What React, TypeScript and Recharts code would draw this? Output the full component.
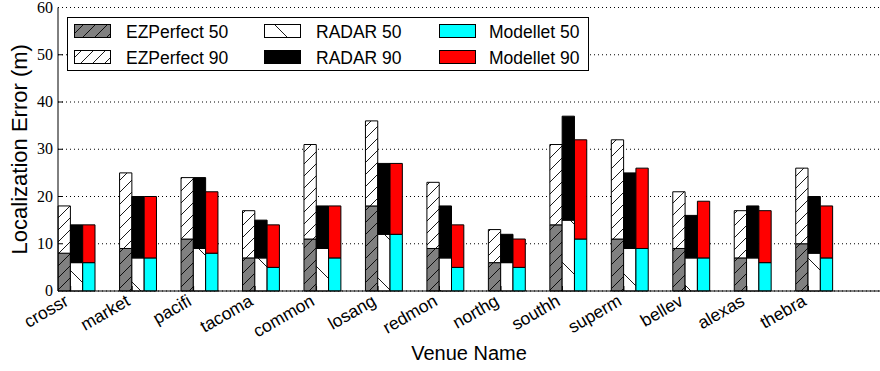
import { BarChart, Bar, XAxis, YAxis, CartesianGrid, Legend, Label } from "recharts";

const venues = ["crossr", "market", "pacifi", "tacoma", "common", "losang", "redmon", "northg", "southh", "superm", "bellev", "alexas", "thebra"];
const ezPerfect50 = [8, 9, 11, 7, 11, 18, 9, 6, 14, 11, 9, 7, 10];
const ezPerfect90 = [18, 25, 24, 17, 31, 36, 23, 13, 31, 32, 21, 17, 26];
const radar50 = [6, 7, 9, 7, 9, 12, 7, 6, 15, 9, 7, 7, 8];
const radar90 = [14, 20, 24, 15, 18, 27, 18, 12, 37, 25, 16, 18, 20];
const modellet50 = [6, 7, 8, 5, 7, 12, 5, 5, 11, 9, 7, 6, 7];
const modellet90 = [14, 20, 21, 14, 18, 27, 14, 11, 32, 26, 19, 17, 18];
const yTicks = [0, 10, 20, 30, 40, 50, 60];

// 90th percentile bar is drawn as the part above the 50th percentile one
const data = venues.map((venue, i) => ({
  venue,
  ez50: ezPerfect50[i],
  ez90: ezPerfect90[i] - ezPerfect50[i],
  radar50: radar50[i],
  radar90: radar90[i] - radar50[i],
  mod50: modellet50[i],
  mod90: modellet90[i] - modellet50[i],
}));

const series = [
  { key: "ez50", stack: "ez", name: "EZPerfect 50", fill: "url(#hatchFwdGray)" },
  { key: "ez90", stack: "ez", name: "EZPerfect 90", fill: "url(#hatchFwdWhite)" },
  { key: "radar50", stack: "radar", name: "RADAR 50", fill: "url(#hatchBackWhite)" },
  { key: "radar90", stack: "radar", name: "RADAR 90", fill: "#000000" },
  { key: "mod50", stack: "mod", name: "Modellet 50", fill: "#00ffff" },
  { key: "mod90", stack: "mod", name: "Modellet 90", fill: "#ff0000" },
];

const FONT = "'Liberation Sans', Arial, sans-serif";
const CHART_W = 880;
const CHART_H = 371;
const TOP = 7.5;
const X_AXIS_H = 80;
const PLOT_H = CHART_H - TOP - X_AXIS_H;
// ticks sit on the EZPerfect/RADAR boundary, the plot box runs past the right edge
const TICK_PAD = { left: 12.7, right: 71.7 };
const BAR_PAD = { left: -11.9, right: 34.8 };

function VenueTick(props: any) {
  const { x, y, payload } = props;
  const ax = x - 4;
  const ay = y + 8;
  return (
    <g>
      <line x1={x} y1={y} x2={x} y2={y - 5} stroke="#000" />
      <text x={ax} y={ay} dy="0.35em" textAnchor="end" fontSize={17.5} fill="#000"
        transform={`rotate(-30 ${ax} ${ay})`}>
        {payload.value}
      </text>
    </g>
  );
}

// top ticks also carry the vertical dotted grid line down through the plot
function TopTick(props: any) {
  const { x, y } = props;
  return (
    <g>
      <line x1={x} y1={y} x2={x} y2={y + PLOT_H} stroke="#000" strokeDasharray="1 3" />
      <line x1={x} y1={y} x2={x} y2={y + 5} stroke="#000" />
    </g>
  );
}

function ValueTick(props: any) {
  const { x, y, payload } = props;
  return (
    <g>
      {payload.value > 0 && payload.value < 60 && (
        <line x1={x} y1={y} x2={x + 5} y2={y} stroke="#000" />
      )}
      <text x={x - 5} y={y + 5} textAnchor="end" fontSize={16} fill="#000"
        fontFamily="'Liberation Serif', 'DejaVu Serif', serif">
        {payload.value}
      </text>
    </g>
  );
}

function renderLegend() {
  const colX = [7, 197, 372];
  const textX = [59, 249, 422];
  const rowY = [7, 33];
  const baseY = [20.5, 46.5];
  return (
    <svg width={522} height={54} style={{ display: "block" }}>
      <rect x={0.5} y={0.5} width={521} height={53} fill="#fff" stroke="#000" />
      {series.map((s, i) => {
        const col = Math.floor(i / 2);
        const row = i % 2;
        return (
          <g key={s.key}>
            <rect x={colX[col] + 0.5} y={rowY[row] + 0.5} width={36} height={13} fill={s.fill} stroke="#000" />
            <text x={textX[col]} y={baseY[row]} fontSize={17.5} fontFamily={FONT} fill="#000">
              {s.name}
            </text>
          </g>
        );
      })}
    </svg>
  );
}

export default function App() {
  return (
    <div style={{ position: "absolute", left: 0, top: 0, fontFamily: FONT, background: "#fff" }}>
      <BarChart width={CHART_W} height={CHART_H} data={data} barGap={0}
        margin={{ top: TOP, right: 0, bottom: 0, left: 0 }}>
        <defs>
          <pattern id="hatchFwdGray" patternUnits="userSpaceOnUse" width={12} height={12}>
            <rect width={12} height={12} fill="#808080" />
            <path d="M-3,3 L3,-3 M0,12 L12,0 M9,15 L15,9" stroke="#000" strokeWidth={0.9} />
          </pattern>
          <pattern id="hatchFwdWhite" patternUnits="userSpaceOnUse" width={12} height={12}>
            <rect width={12} height={12} fill="#ffffff" />
            <path d="M-3,3 L3,-3 M0,12 L12,0 M9,15 L15,9" stroke="#000" strokeWidth={0.9} />
          </pattern>
          <pattern id="hatchBackWhite" patternUnits="userSpaceOnUse" width={50} height={50}>
            <rect width={50} height={50} fill="#ffffff" />
            <path d="M0,0 L50,50 M-5,45 L5,55 M45,-5 L55,5" stroke="#000" strokeWidth={0.9} />
          </pattern>
        </defs>
        <CartesianGrid vertical={false} stroke="#000" strokeWidth={1} strokeDasharray="1 3" />
        <XAxis xAxisId="top" orientation="top" dataKey="venue" scale="point" padding={TICK_PAD}
          interval={0} height={0} tickSize={0} tickMargin={0} tickLine={false}
          axisLine={{ stroke: "#000" }} tick={<TopTick />} />
        <XAxis dataKey="venue" scale="point" padding={TICK_PAD} interval={0}
          height={X_AXIS_H} tickSize={0} tickMargin={0} tickLine={false}
          axisLine={{ stroke: "#000" }} tick={<VenueTick />}>
          <Label content={(p: any) => {
            const vb = p.viewBox;
            return (
              <text x={vb.x + vb.width / 2} y={vb.y + 69} textAnchor="middle" fontSize={20} fill="#000">
                Venue Name
              </text>
            );
          }} />
        </XAxis>
        <XAxis xAxisId="bars" dataKey="venue" scale="band" hide height={0} padding={BAR_PAD} />
        <YAxis domain={[0, 60]} ticks={yTicks} interval={0} width={58} tickSize={0} tickMargin={0}
          tickLine={false} axisLine={{ stroke: "#000" }} tick={<ValueTick />}>
          <Label content={(p: any) => {
            const vb = p.viewBox;
            const cx = 27;
            const cy = vb.y + vb.height / 2;
            return (
              <text x={cx} y={cy} textAnchor="middle" fontSize={22} fill="#000"
                transform={`rotate(-90 ${cx} ${cy})`}>
                Localization Error (m)
              </text>
            );
          }} />
        </YAxis>
        <Legend layout="horizontal" verticalAlign="middle" align="center"
          wrapperStyle={{ left: 67, top: 17, width: 522, height: 54 }} content={renderLegend} />
        {series.map((s) => (
          <Bar key={s.key} xAxisId="bars" dataKey={s.key} stackId={s.stack} name={s.name}
            fill={s.fill} stroke="#000" strokeWidth={1} barSize={12.3} isAnimationActive={false} />
        ))}
      </BarChart>
    </div>
  );
}
